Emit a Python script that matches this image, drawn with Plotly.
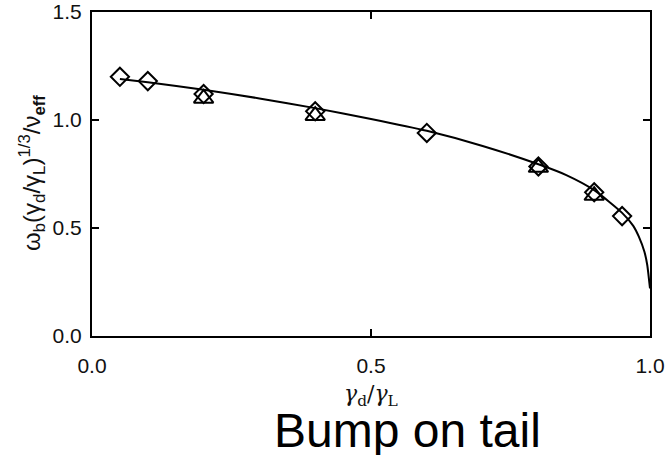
import plotly.graph_objects as go

# Theory curve
curve_x = [0.05, 0.1, 0.2, 0.3, 0.4, 0.5, 0.6, 0.7, 0.8, 0.85, 0.9, 0.95, 0.97, 0.98, 0.99, 0.995, 1.0]
curve_y = [1.19, 1.175, 1.14, 1.10, 1.055, 1.005, 0.95, 0.88, 0.795, 0.745, 0.675, 0.57, 0.51, 0.46, 0.39, 0.33, 0.22]

# Simulation points
diamond_x = [0.05, 0.1, 0.2, 0.4, 0.6, 0.8, 0.9, 0.95]
diamond_y = [1.2, 1.18, 1.12, 1.04, 0.94, 0.785, 0.665, 0.555]
triangle_x = [0.2, 0.4, 0.8, 0.9]
triangle_y = [1.10, 1.02, 0.78, 0.65]

tick_vals = [0.0, 0.5, 1.0]
ytick_vals = [0.0, 0.5, 1.0, 1.5]

FONT = "Liberation Sans, Arial, sans-serif"

fig = go.Figure()
fig.add_trace(go.Scatter(x=curve_x, y=curve_y, mode="lines",
                         line=dict(color="black", width=2, shape="spline", smoothing=0.6),
                         showlegend=False, hoverinfo="skip"))
fig.add_trace(go.Scatter(x=triangle_x, y=triangle_y, mode="markers",
                         marker=dict(symbol="triangle-up-open", size=17,
                                     line=dict(color="black", width=2), color="black"),
                         showlegend=False))
fig.add_trace(go.Scatter(x=diamond_x, y=diamond_y, mode="markers",
                         marker=dict(symbol="diamond-open", size=14,
                                     line=dict(color="black", width=2), color="black"),
                         showlegend=False))

axis_common = dict(showline=True, linecolor="black", linewidth=2, mirror="ticks",
                   ticks="inside", ticklen=7, tickwidth=1.5, tickcolor="black",
                   showgrid=False, zeroline=False,
                   tickfont=dict(family=FONT, size=21, color="#111"))

fig.update_xaxes(range=[0, 1.0], tickvals=tick_vals, ticktext=[f"{v:.1f}" for v in tick_vals],
                 ticklabelstandoff=10, **axis_common)
fig.update_yaxes(range=[0, 1.5], tickvals=ytick_vals, ticktext=[f"{v:.1f}" for v in ytick_vals],
                 ticklabelstandoff=4, **axis_common)

fig.add_annotation(text="<i>γ</i><sub>d</sub>/<i>γ</i><sub>L</sub>", xref="paper", yref="paper",
                   x=0.500, y=-0.185, showarrow=False, xanchor="center", yanchor="middle",
                   font=dict(family="DejaVu Serif, serif", size=22, color="#111"))
fig.add_annotation(text="ω<sub>b</sub>(γ<sub>d</sub>/γ<sub>L</sub>)<sup>1/3</sup>/ν<sub><b>eff</b></sub>",
                   xref="paper", yref="paper", x=-0.1075, y=0.503, showarrow=False,
                   textangle=-90, xanchor="center", yanchor="middle",
                   font=dict(family=FONT, size=24, color="#111"))
fig.add_annotation(text="Bump on tail", xref="paper", yref="paper",
                   x=0.566, y=-0.204, showarrow=False, xanchor="center", yanchor="top",
                   font=dict(family="Liberation Sans, Arial, sans-serif", size=48, color="black"))

fig.update_layout(width=667, height=455,
                  margin=dict(l=92, r=17, t=12, b=119, autoexpand=False),
                  plot_bgcolor="white", paper_bgcolor="white")

fig.write_html("out.html")
